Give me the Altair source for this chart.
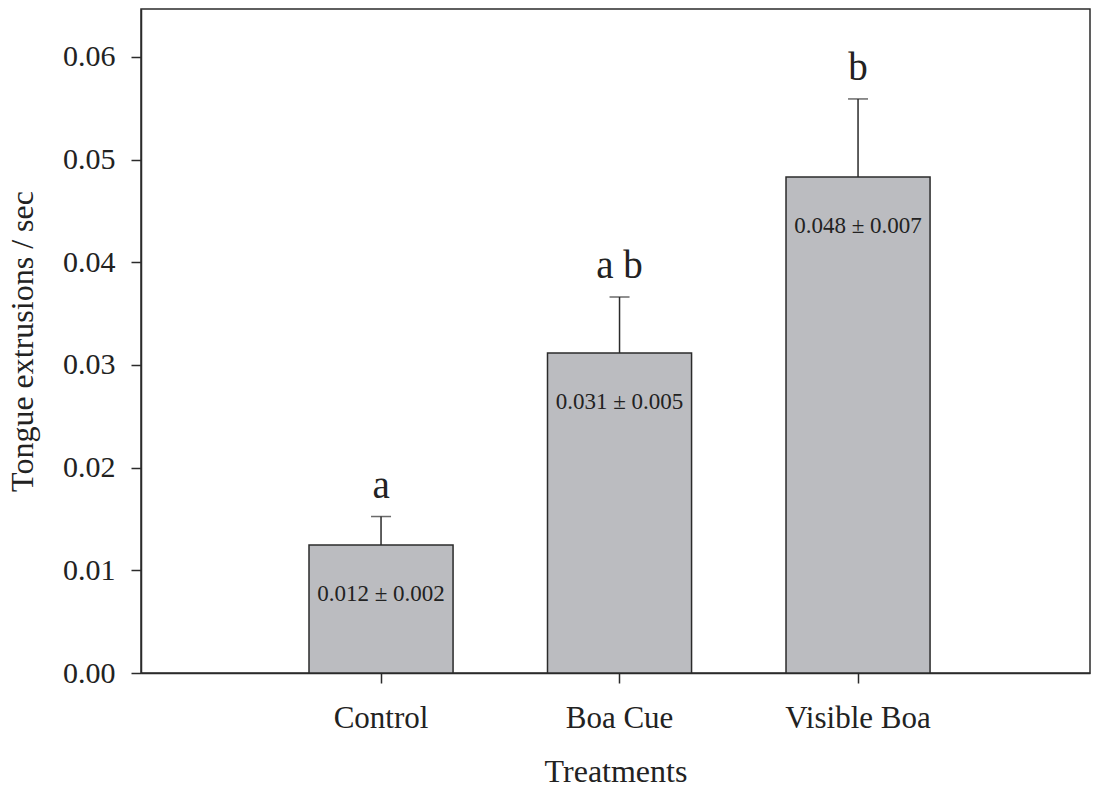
import altair as alt
import pandas as pd

categories = ["Control", "Boa Cue", "Visible Boa"]
means = [0.01247, 0.03117, 0.04831]
errors = [0.00277, 0.00545, 0.00760]
letters = ["a", "a b", "b"]
value_labels = ["0.012 ± 0.002", "0.031 ± 0.005", "0.048 ± 0.007"]
y_ticks = [0.0, 0.01, 0.02, 0.03, 0.04, 0.05, 0.06]

df = pd.DataFrame({
    "treatment": categories,
    "mean": means,
    "err": errors,
    "letter": letters,
    "label": value_labels,
})
df["upper"] = df["mean"] + df["err"]

FONT = "Liberation Serif"
INK = "#2b2b2b"
TXT = "#222222"

x_axis = alt.Axis(
    title="Treatments", labelAngle=0, labelFontSize=31, titleFontSize=32,
    tickSize=10, labelPadding=44, labelBaseline="alphabetic",
    titleY=108, titleBaseline="alphabetic",
)
y_axis = alt.Axis(
    title="Tongue extrusions / sec", values=y_ticks, format=".2f",
    labelFontSize=30, titleFontSize=32, tickSize=10, labelPadding=16,
    titleX=-109, titleBaseline="alphabetic",
)
x_scale = alt.Scale(paddingInner=0.396, paddingOuter=0.6875, align=0.5123)
y_scale = alt.Scale(domain=[0, 0.06467], nice=False, zero=True)

def X():
    return alt.X("treatment:N", sort=categories, scale=x_scale, axis=x_axis)

base = alt.Chart(df)

bars = base.mark_bar(fill="#BBBCC0", stroke=INK, strokeWidth=1.5).encode(
    x=X(), y=alt.Y("mean:Q", scale=y_scale, axis=y_axis)
)
rule = base.mark_rule(color=INK, strokeWidth=1.5).encode(
    x=X(), y=alt.Y("mean:Q", scale=y_scale, axis=y_axis), y2="upper:Q"
)
cap = base.mark_tick(color=INK, thickness=1.5, size=20).encode(
    x=X(), y=alt.Y("upper:Q", scale=y_scale, axis=y_axis)
)
letter_text = base.mark_text(
    font=FONT, fontSize=39, baseline="alphabetic", dy=-19, color=TXT
).encode(
    x=X(), y=alt.Y("upper:Q", scale=y_scale, axis=y_axis), text="letter:N"
)
value_text = base.mark_text(
    font=FONT, fontSize=23, baseline="middle", dy=49, color=TXT
).encode(
    x=X(), y=alt.Y("mean:Q", scale=y_scale, axis=y_axis), text="label:N"
)

chart = alt.layer(bars, rule, cap, value_text, letter_text).properties(
    width=949,
    height=664,
    autosize=alt.AutoSizeParams(type="none"),
    padding={"left": 133, "top": 1, "right": 1, "bottom": 111},
).configure_view(
    stroke=INK, strokeWidth=1.5
).configure_axis(
    grid=False, domainColor=INK, domainWidth=1.5, tickColor=INK, tickWidth=1.5,
    labelColor=TXT, titleColor=TXT, labelFont=FONT, titleFont=FONT,
    titleFontWeight="normal",
).configure_text(font=FONT)

chart.save("out.html", embed_options={"renderer": "svg", "actions": False})
